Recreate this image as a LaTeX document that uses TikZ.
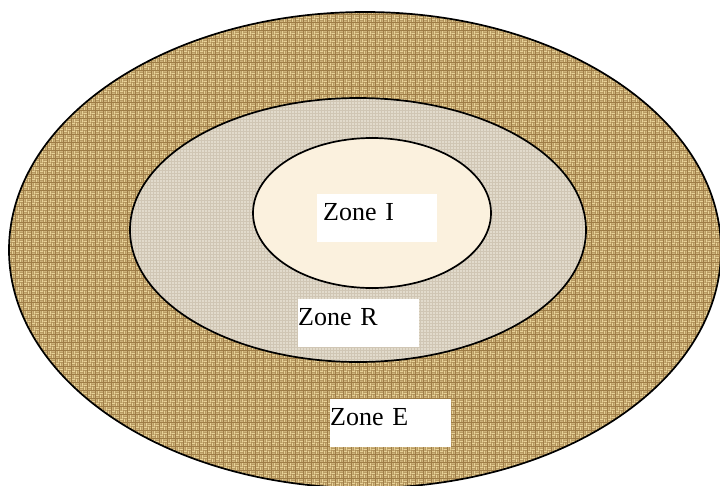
\documentclass[tikz,border=0pt]{standalone}
\usepackage{fontspec}
\setmainfont{Liberation Serif}
\usetikzlibrary{patterns}

\definecolor{burlap}{RGB}{158,124,70}
\definecolor{burlaplight}{RGB}{232,210,152}
\definecolor{linen}{RGB}{226,219,204}
\definecolor{linendark}{RGB}{208,198,180}
\definecolor{cream}{RGB}{251,241,222}

% basket weave for the outer zone
\pgfdeclarepatternformonly{weave}{\pgfpointorigin}{\pgfqpoint{8pt}{8pt}}{\pgfqpoint{8pt}{8pt}}{
  \pgfsetlinewidth{1.1pt}
  \pgfpathmoveto{\pgfqpoint{0pt}{1pt}}\pgfpathlineto{\pgfqpoint{3.6pt}{1pt}}
  \pgfpathmoveto{\pgfqpoint{0pt}{3pt}}\pgfpathlineto{\pgfqpoint{3.6pt}{3pt}}
  \pgfpathmoveto{\pgfqpoint{5pt}{0pt}}\pgfpathlineto{\pgfqpoint{5pt}{3.6pt}}
  \pgfpathmoveto{\pgfqpoint{7pt}{0pt}}\pgfpathlineto{\pgfqpoint{7pt}{3.6pt}}
  \pgfpathmoveto{\pgfqpoint{4pt}{5pt}}\pgfpathlineto{\pgfqpoint{7.6pt}{5pt}}
  \pgfpathmoveto{\pgfqpoint{4pt}{7pt}}\pgfpathlineto{\pgfqpoint{7.6pt}{7pt}}
  \pgfpathmoveto{\pgfqpoint{1pt}{4pt}}\pgfpathlineto{\pgfqpoint{1pt}{7.6pt}}
  \pgfpathmoveto{\pgfqpoint{3pt}{4pt}}\pgfpathlineto{\pgfqpoint{3pt}{7.6pt}}
  \pgfusepath{stroke}}

\tikzset{
  zonelabel/.style = {fill=white, inner ysep=0pt, anchor=north west, text height=26pt, text depth=22pt, align=left, font=\fontsize{26}{28}\selectfont}
}

\begin{document}
\begin{tikzpicture}[x=1pt, y=-1pt]
\useasboundingbox (0,0) rectangle (720,485);
\clip (0,0) rectangle (720,485);
\draw [line width=1.7pt, preaction={fill=burlap}, pattern=weave, pattern color=burlaplight] (365,250) ellipse (356 and 238);
\draw [line width=1.7pt, preaction={fill=linen}, pattern=grid, pattern color=linendark] (358,230) ellipse (228 and 132);
\draw [line width=1.7pt, fill=cream] (372,213) ellipse (119 and 75);
\node [zonelabel, inner xsep=6pt, text width=108pt] (zoneI) at (317,194) {Zone I};
\node [zonelabel, inner xsep=0pt, text width=121pt] (zoneR) at (298,299) {Zone R};
\node [zonelabel, inner xsep=0pt, text width=121pt] (zoneE) at (330,399) {Zone E};
\end{tikzpicture}
\end{document}
